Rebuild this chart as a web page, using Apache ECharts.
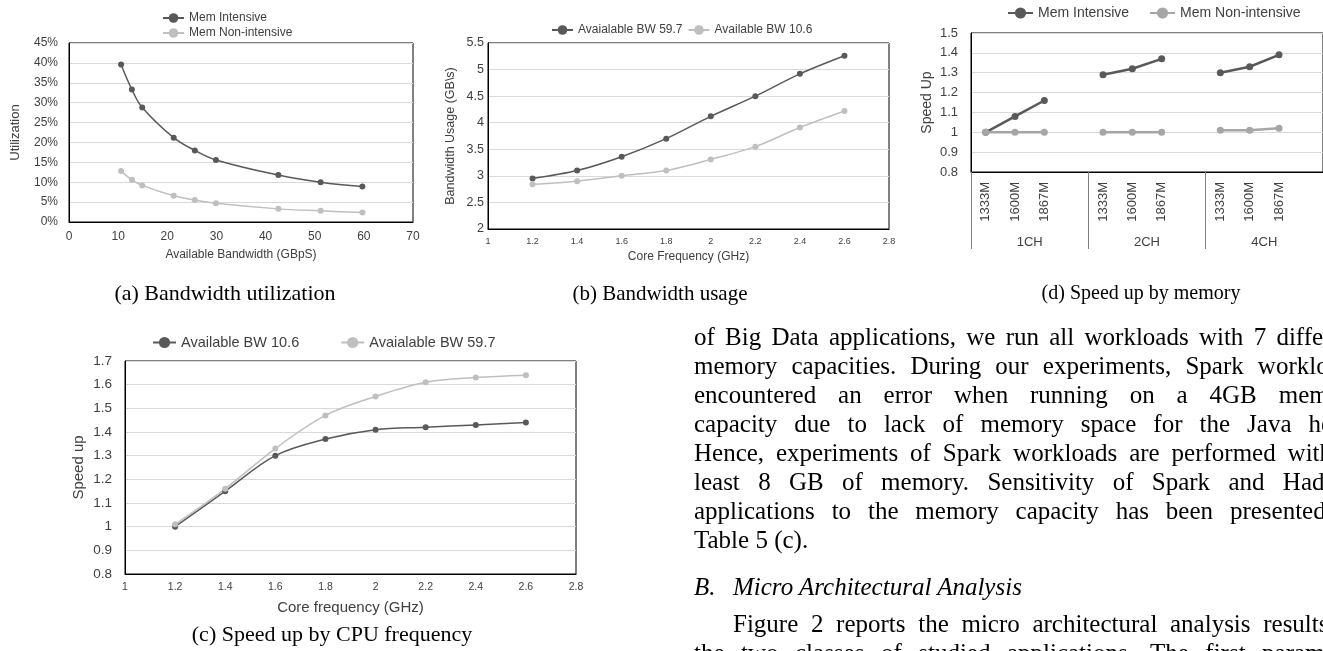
<!DOCTYPE html>
<html><head><meta charset="utf-8">
<script src="https://cdn.jsdelivr.net/npm/echarts@6/dist/echarts.min.js"></script>
<style>
html,body{margin:0;padding:0;background:#fff;overflow:hidden;width:1323px;height:651px;}
#chart{position:absolute;left:0;top:0;width:1323px;height:651px;}
#para{position:absolute;left:694px;top:0;font-family:'Liberation Serif','Times New Roman',serif;font-size:25px;line-height:29px;color:#000;}
.ln{position:absolute;left:0;width:668px;white-space:nowrap;}
.j{text-align:justify;text-align-last:justify;}
.ind{text-indent:39px;}
.hd{position:absolute;left:0;white-space:nowrap;font-style:italic;}
.hd span{display:inline-block;width:39px;}
</style></head>
<body>
<div id="chart"></div>
<div id="para">
<div class="ln j" style="top:322px">of Big Data applications, we run all workloads with 7 different</div>
<div class="ln j" style="top:351px">memory capacities. During our experiments, Spark workloads</div>
<div class="ln j" style="top:380px">encountered an error when running on a 4GB memory</div>
<div class="ln j" style="top:409px">capacity due to lack of memory space for the Java heap.</div>
<div class="ln j" style="top:438px">Hence, experiments of Spark workloads are performed with at</div>
<div class="ln j" style="top:467px">least 8 GB of memory. Sensitivity of Spark and Hadoop</div>
<div class="ln j" style="top:496px">applications to the memory capacity has been presented in</div>
<div class="ln" style="top:525px">Table 5 (c).</div>
<div class="hd" style="top:572px"><span>B.</span>Micro Architectural Analysis</div>
<div class="ln j ind" style="top:609px">Figure 2 reports the micro architectural analysis results of</div>
<div class="ln j" style="top:638px">the two classes of studied applications. The first parameter</div>
</div>
<script>
// (a) Bandwidth utilization
const bwX = [10.6, 12.8, 14.9, 21.3, 25.6, 29.9, 42.6, 51.2, 59.7];
const utilMemInt = [39.6, 33.3, 28.8, 21.2, 18.0, 15.6, 11.8, 10.0, 8.9];
const utilMemNon = [12.8, 10.6, 9.2, 6.6, 5.5, 4.7, 3.3, 2.8, 2.4];
// (b) Bandwidth usage
const freqX = [1.2, 1.4, 1.6, 1.8, 2.0, 2.2, 2.4, 2.6];
const bwUse597 = [2.95, 3.10, 3.36, 3.70, 4.12, 4.50, 4.92, 5.26];
const bwUse106 = [2.84, 2.90, 3.00, 3.10, 3.31, 3.55, 3.91, 4.22];
// (c) Speed up by CPU frequency
const spdFreq106 = [1.00, 1.15, 1.30, 1.37, 1.41, 1.42, 1.43, 1.44];
const spdFreq597 = [1.01, 1.16, 1.33, 1.47, 1.55, 1.61, 1.63, 1.64];
// (d) Speed up by memory
const memCats = ['1333M', '1600M', '1867M', '', '1333M', '1600M', '1867M', '', '1333M', '1600M', '1867M', ''];
const chGroups = ['1CH', '2CH', '4CH'];
const spdMemInt = [1.00, 1.08, 1.16, null, 1.29, 1.32, 1.37, null, 1.30, 1.33, 1.39, null];
const spdMemNon = [1.00, 1.00, 1.00, null, 1.00, 1.00, 1.00, null, 1.01, 1.01, 1.02, null];
// captions
const captions = ['(a) Bandwidth utilization', '(b) Bandwidth usage', '(c) Speed up by CPU frequency', '(d) Speed up by memory'];

const DARK = '#595959', LIGHT = '#bfbfbf', LIGHT_D = '#a6a6a6';
const LBL = '#404040';
const FONT = "'Liberation Sans', Arial, sans-serif";
const zip = (xs, ys) => xs.map((x, i) => [x, ys[i]]);
const gaps = a => a.map(v => v == null ? '-' : v);
const strip = n => n.split('|')[1];

function valX(gi, min, max, interval, lblSize, margin, name, nameSize, nameGap) {
  return {
    type: 'value', gridIndex: gi, min, max, interval,
    axisLine: { show: true, lineStyle: { color: '#000', width: 1 } },
    axisTick: { show: false }, splitLine: { show: false },
    axisLabel: { fontSize: lblSize, color: LBL, margin, fontFamily: FONT },
    name, nameLocation: 'middle', nameGap,
    nameTextStyle: { fontSize: nameSize, color: LBL, fontFamily: FONT }
  };
}
function valY(gi, min, max, interval, lblSize, margin, name, nameSize, nameGap, fmt) {
  return {
    type: 'value', gridIndex: gi, min, max, interval,
    axisLine: { show: true, lineStyle: { color: '#000', width: 1 } },
    axisTick: { show: false },
    splitLine: { show: true, lineStyle: { color: '#d9d9d9', width: 1 } },
    axisLabel: { fontSize: lblSize, color: LBL, margin, fontFamily: FONT, formatter: fmt },
    name, nameLocation: 'middle', nameGap, nameRotate: 90,
    nameTextStyle: { fontSize: nameSize, color: LBL, fontFamily: FONT }
  };
}
function line(name, xi, yi, data, color, width, size, smooth) {
  return {
    type: 'line', name, xAxisIndex: xi, yAxisIndex: yi, data,
    smooth, symbol: 'circle', symbolSize: size, showSymbol: true,
    connectNulls: false,
    itemStyle: { color }, lineStyle: { color, width }
  };
}
function legend(names, left, top, orient, itemWidth, itemHeight, itemGap, size) {
  return {
    data: names, left, top, orient, itemWidth, itemHeight, itemGap, padding: 0,
    formatter: strip, selectedMode: false,
    textStyle: { fontSize: size, color: LBL, fontFamily: FONT }
  };
}
const gridBase = { show: true, borderColor: '#000', borderWidth: 1, backgroundColor: 'transparent' };

const chart = echarts.init(document.getElementById('chart'), null, { renderer: 'canvas' });
chart.setOption({
  animation: false,
  backgroundColor: '#fff',
  textStyle: { fontFamily: FONT },
  grid: [
    Object.assign({ left: 69, top: 43, width: 344, height: 179 }, gridBase),
    Object.assign({ left: 488, top: 43, width: 401, height: 186 }, gridBase),
    Object.assign({ left: 125, top: 361, width: 451, height: 213 }, gridBase),
    Object.assign({ left: 971, top: 33, width: 389, height: 139 }, gridBase)
  ],
  xAxis: [
    valX(0, 0, 70, 10, 12, 9, 'Available Bandwidth (GBpS)', 12, 27),
    valX(1, 1, 2.8, 0.2, 9, 8, 'Core Frequency (GHz)', 12, 22),
    valX(2, 1, 2.8, 0.2, 10.5, 8, 'Core frequency (GHz)', 15, 26),
    {
      type: 'category', gridIndex: 3, data: memCats, boundaryGap: true,
      axisLine: { show: true, lineStyle: { color: '#000', width: 1 } },
      axisTick: { show: false },
      axisLabel: { rotate: 90, margin: 10, interval: 0, fontSize: 13, color: LBL, fontFamily: FONT }
    },
    {
      type: 'category', gridIndex: 3, data: chGroups, position: 'bottom', boundaryGap: true,
      axisLine: { show: false },
      axisTick: { show: true, length: 77, interval: 0, lineStyle: { color: '#7f7f7f', width: 1 } },
      axisLabel: { margin: 64, interval: 0, fontSize: 13, color: LBL, fontFamily: FONT }
    }
  ],
  yAxis: [
    valY(0, 0, 45, 5, 12, 11, 'Utilization', 13, 47, '{value}%'),
    valY(1, 2, 5.5, 0.5, 12.5, 4, 'Bandwidth Usage (GB\\s)', 12.5, 31),
    valY(2, 0.8, 1.7, 0.1, 13.5, 13, 'Speed up', 15, 39),
    valY(3, 0.8, 1.5, 0.1, 13, 13, 'Speed Up', 14, 37)
  ],
  legend: [
    legend(['a|Mem Intensive', 'a|Mem Non-intensive'], 162, 12, 'vertical', 21, 12, 3, 12),
    legend(['b|Avaialable BW 59.7', 'b|Available BW 10.6'], 551, 24, 'horizontal', 21, 12, 5, 12),
    legend(['c|Available BW 10.6', 'c|Avaialable BW 59.7'], 152, 335, 'horizontal', 23, 14, 41, 14.5),
    legend(['d|Mem Intensive', 'd|Mem Non-intensive'], 1007, 6, 'horizontal', 25, 14, 20, 14)
  ],
  series: [
    line('a|Mem Intensive', 0, 0, zip(bwX, utilMemInt), DARK, 1.5, 6, 0.4),
    line('a|Mem Non-intensive', 0, 0, zip(bwX, utilMemNon), LIGHT, 1.5, 6, 0.4),
    line('b|Avaialable BW 59.7', 1, 1, zip(freqX, bwUse597), DARK, 1.5, 6, 0.3),
    line('b|Available BW 10.6', 1, 1, zip(freqX, bwUse106), LIGHT, 1.5, 6, 0.3),
    line('c|Available BW 10.6', 2, 2, zip(freqX, spdFreq106), DARK, 1.5, 6, 0.35),
    line('c|Avaialable BW 59.7', 2, 2, zip(freqX, spdFreq597), LIGHT, 1.5, 6, 0.35),
    line('d|Mem Intensive', 3, 3, gaps(spdMemInt), DARK, 2.5, 7, false),
    line('d|Mem Non-intensive', 3, 3, gaps(spdMemNon), LIGHT_D, 2.5, 7, false)
  ],
  graphic: [
    { type: 'text', x: 225, y: 294, style: { text: captions[0], fill: '#000', font: "22px 'Liberation Serif'", align: 'center', verticalAlign: 'middle', textAlign: 'center', textVerticalAlign: 'middle' } },
    { type: 'text', x: 660, y: 294, style: { text: captions[1], fill: '#000', font: "21px 'Liberation Serif'", align: 'center', verticalAlign: 'middle', textAlign: 'center', textVerticalAlign: 'middle' } },
    { type: 'text', x: 332, y: 635, style: { text: captions[2], fill: '#000', font: "22px 'Liberation Serif'", align: 'center', verticalAlign: 'middle', textAlign: 'center', textVerticalAlign: 'middle' } },
    { type: 'text', x: 1141, y: 294, style: { text: captions[3], fill: '#000', font: "20px 'Liberation Serif'", align: 'center', verticalAlign: 'middle', textAlign: 'center', textVerticalAlign: 'middle' } }
  ]
});
</script>
</body></html>
